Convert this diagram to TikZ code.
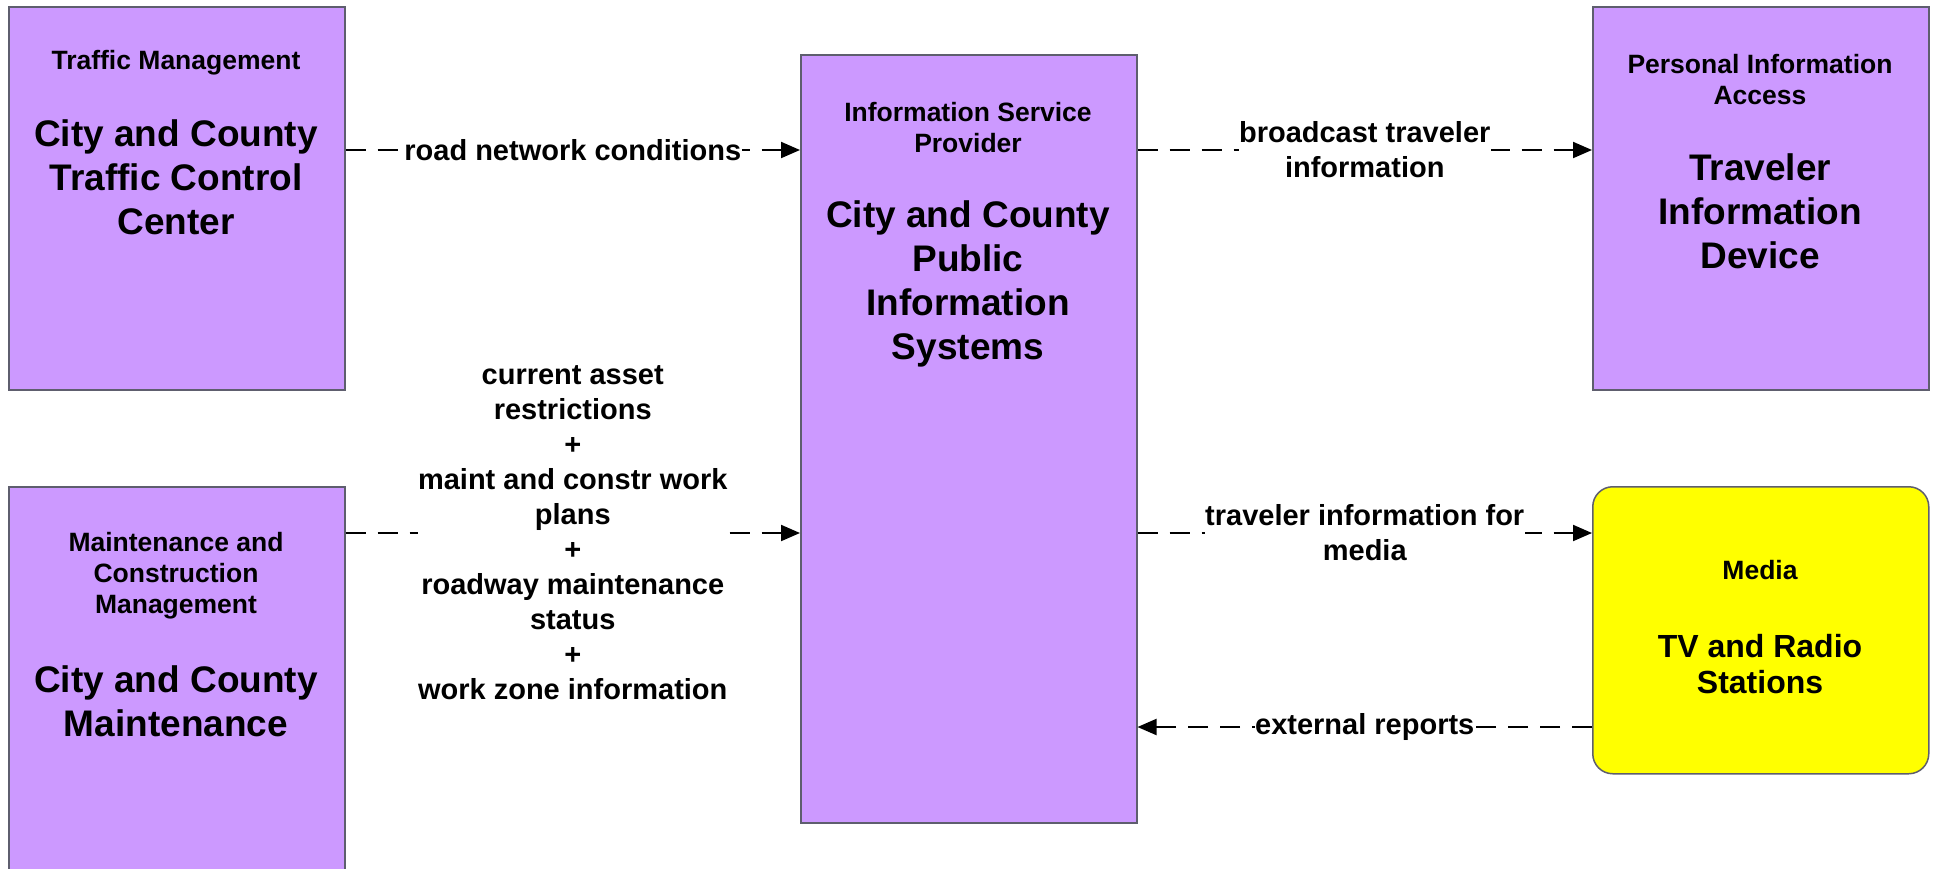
\documentclass[tikz,border=0pt]{standalone}
\usepackage{fontspec}
\setmainfont{Liberation Sans}
\usetikzlibrary{arrows.meta}
\definecolor{boxpurple}{HTML}{CC99FF}
\definecolor{boxyellow}{HTML}{FFFF00}
\definecolor{boxline}{HTML}{5E5E6E}
\begin{document}
\begin{tikzpicture}[x=1pt,y=-1pt,
 box/.style={draw=boxline, line width=1.5pt, fill=boxpurple, rectangle, anchor=north west, inner sep=0pt, minimum width=336pt},
 hdr/.style={align=center, font=\fontsize{26.5}{31}\selectfont\bfseries, inner sep=0pt},
 ttl/.style={align=center, font=\fontsize{37}{44}\selectfont\bfseries, inner sep=0pt},
 lbl/.style={align=center, font=\fontsize{29}{35}\selectfont\bfseries, fill=white, inner sep=0.5pt},
 flow/.style={line width=2pt, dash pattern=on 20pt off 12pt, -{Triangle[length=19pt,width=16pt]}}
]
\clip (0,0) rectangle (1937,868);
\fill[white] (0,0) rectangle (1937,868);

% boxes
\node[box, minimum height=383pt] (tm) at (8,6) {};
\node[box, minimum height=414pt] (mc) at (8,486) {};
\node[box, minimum height=768pt] (isp) at (800,54) {};
\node[box, minimum height=383pt] (pia) at (1592,6) {};
\node[box, minimum height=287pt, fill=boxyellow, rounded corners=20pt] (media) at (1592,486) {};

% box texts
\node[hdr] (tmh) at (176,63) {Traffic Management};
\node[ttl] (tmt) at (176,177) {City and County\\Traffic Control\\Center};
\node[hdr] (mch) at (176,576) {Maintenance and\\Construction\\Management};
\node[ttl] (mct) at (176,701) {City and County\\Maintenance};
\node[hdr] (isph) at (968,128) {Information Service\\Provider};
\node[ttl] (ispt) at (968,284) {City and County\\Public\\Information\\Systems};
\node[hdr] (piah) at (1760,80) {Personal Information\\Access};
\node[ttl] (piat) at (1760,211) {Traveler\\Information\\Device};
\node[hdr] (mdh) at (1760,570) {Media};
\node[ttl, font=\fontsize{32}{36}\selectfont\bfseries] (mdt) at (1760,664) {TV and Radio\\Stations};

% flows
\draw[flow] (tm.east |- 0,150) -- node[lbl] (l1) {road network conditions} (isp.west |- 0,150);
\draw[flow] (isp.east |- 0,150) -- node[lbl] (l2) {broadcast traveler\\information} (pia.west |- 0,150);
\draw[flow] (mc.east |- 0,533) -- node[lbl] (l3) {current asset\\restrictions\\+\\maint and constr work\\plans\\+\\roadway maintenance\\status\\+\\work zone information} (isp.west |- 0,533);
\draw[flow] (isp.east |- 0,533) -- node[lbl] (l4) {traveler information for\\media} (media.west |- 0,533);
\draw[flow] (media.west |- 0,727) -- node[lbl] (l5) {external reports} (isp.east |- 0,727);
\end{tikzpicture}
\end{document}
